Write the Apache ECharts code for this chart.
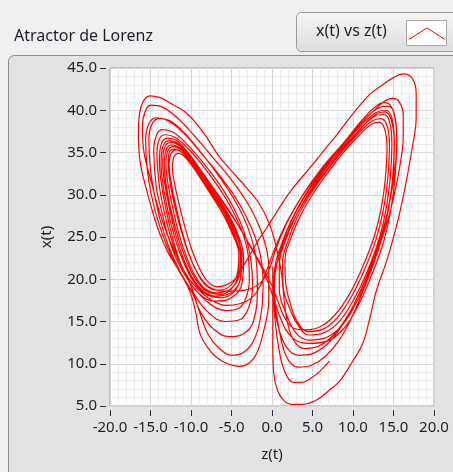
<!DOCTYPE html>
<html>
<head>
<meta charset="utf-8">
<script src="https://cdn.jsdelivr.net/npm/echarts/dist/echarts.min.js"></script>
<style>
  html, body { margin: 0; padding: 0; background: #f0f0f0; }
  #chart { width: 453px; height: 472px; }
</style>
</head>
<body>
<div id="chart"></div>
<script>
// Lorenz trajectory, sampled as [z(t), x(t)] pairs, in drawing order.

// start near the origin, first wide swing around the right wing
const sweepStart = [[0.1,21.5],[0.1,17],[0.1,12],[0.2,9],[0.7,6.8],[1.5,5.6],[2.4,5.2],[3.8,5.2],[5.5,5.7],[7,6.8],[8.4,8.0],[9.9,10.2],[11.2,12.4],[12.1,15.5],[12.9,18.7],[14.1,22],[14.9,24.6],[15.8,28],[16.6,31.7],[17.3,35.5],[17.8,39.1],[17.8,42],[17.3,43.8],[16.2,44.3],[14.9,43.8],[13.5,42.9],[12.1,41.9],[10,39.6],[8.0,37.1],[6.3,35.1],[4.7,33.2],[2.6,30.8],[1.0,28.6],[-0.5,26.3],[-1.7,24.6],[-2.9,22.6]];

// left wing, tight inner turns
const leftA1 = [[-3.9,21.0],[-4.7,19.9],[-5.7,19.3],[-6.8,19.1],[-8.0,19.8],[-9.0,21.4],[-9.9,23.5],[-10.7,26.0],[-11.4,28.6],[-12.0,31.2],[-12.3,33.3],[-12.1,34.5],[-11.5,34.9],[-10.7,34.4],[-9.7,33.2],[-8.6,31.6],[-7.4,29.8],[-6.1,27.8],[-5.0,25.6]];
const leftA2 = [[-4.1,23.0],[-4.3,20.6],[-5.3,19.1],[-6.8,18.7],[-8.2,19.3],[-9.3,20.9],[-10.3,23.1],[-11.1,25.7],[-11.8,28.4],[-12.4,31.2],[-12.7,33.5],[-12.5,34.8],[-11.8,35.3],[-10.9,34.8],[-9.8,33.5],[-8.6,31.8],[-7.3,29.9],[-5.9,27.8],[-4.8,25.5]];
const leftA3 = [[-3.9,22.9],[-4.1,20.3],[-5.2,18.8],[-6.9,18.4],[-8.4,19.0],[-9.6,20.6],[-10.6,22.8],[-11.5,25.4],[-12.2,28.2],[-12.8,31.1],[-13.1,33.6],[-12.9,35.1],[-12.2,35.7],[-11.1,35.2],[-9.9,33.8],[-8.6,32.0],[-7.2,30.0],[-5.7,27.8],[-4.5,25.4]];
const leftA4 = [[-3.7,22.7],[-3.9,20.0],[-5.1,18.4],[-7.0,18.0],[-8.6,18.7],[-9.9,20.3],[-11.0,22.6],[-11.9,25.3],[-12.6,28.1],[-13.2,31.1],[-13.5,33.8],[-13.3,35.5],[-12.5,36.2],[-11.3,35.7],[-10.0,34.2],[-8.6,32.3],[-7.1,30.2],[-5.5,27.9],[-4.2,25.3]];
const leftA5 = [[-3.5,22.5],[-3.7,19.5],[-5.0,17.8],[-7.1,17.4],[-8.9,18.2],[-10.3,19.9],[-11.4,22.2],[-12.3,25.0],[-13.0,27.9],[-13.6,31.0],[-13.9,34.0],[-13.7,35.9],[-12.9,36.7],[-11.6,36.3],[-10.2,34.8],[-8.7,32.8],[-7.0,30.5],[-5.2,28.0],[-3.7,25.6],[-2.4,23.5],[-1.1,21.3],[0.0,19.2],[0.8,17.2],[1.6,15.4],[2.7,14.2]];

// right wing, inner turns
const rightA1 = [[4.2,14.0],[6.0,14.4],[7.8,15.8],[9.6,18.3],[11.2,21.5],[12.6,25.0],[13.5,28.5],[14.0,32.0],[14.2,35.5],[13.9,37.8],[13.2,38.6],[12.2,38.3],[10.8,37.1],[8.8,35.0],[6.8,32.5],[5.0,30.0],[3.5,27.5],[2.3,24.8],[1.6,22.3],[1.7,19.5],[2.3,17.0]];
const rightA2 = [[3.0,15.2],[4.4,13.8],[6.3,14.1],[8.1,15.5],[9.9,18.1],[11.5,21.3],[12.9,24.9],[13.8,28.5],[14.3,32.0],[14.5,35.8],[14.2,38.2],[13.4,39.0],[12.3,38.7],[10.8,37.4],[8.7,35.2],[6.6,32.6],[4.7,30.0],[3.1,27.3],[2.0,24.6],[1.3,22.0],[1.4,19.0],[2.2,16.5]];
const rightA3 = [[3.2,14.6],[4.5,13.4],[6.5,13.7],[8.4,15.1],[10.2,17.8],[11.8,21.0],[13.2,24.7],[14.1,28.4],[14.6,32.0],[14.8,36.0],[14.5,38.7],[13.7,39.5],[12.5,39.2],[10.9,37.8],[8.7,35.5],[6.4,32.8],[4.4,30.0],[2.8,27.2],[1.6,24.4],[0.9,21.8],[0.9,18.8],[1.8,15.8]];
const rightA4 = [[3.0,13.6],[4.6,12.8],[6.7,13.1],[8.7,14.6],[10.5,17.4],[12.1,20.8],[13.5,24.6],[14.4,28.4],[14.9,32.1],[15.1,36.3],[14.8,39.1],[14.0,40.0],[12.8,39.7],[11.0,38.2],[8.7,35.7],[6.2,32.9],[4.1,30.0],[2.4,27.0],[1.2,24.2],[0.4,21.5],[0.3,18.5],[1.0,15.5]];
const rightA5 = [[2.6,13.0],[4.6,12.4],[6.9,12.7],[8.9,14.2],[10.7,17.0],[12.3,20.5],[13.8,24.5],[14.7,28.4],[15.2,32.2],[15.4,36.6],[15.1,39.6],[14.3,40.5],[13.0,40.2],[11.1,38.6],[8.7,36.0],[6.1,33.1],[3.8,30.0],[1.9,26.9],[0.5,24.0],[-0.6,21.2]];

// left wing, wider turns
const leftB1 = [[-1.4,19.3],[-2.5,17.8],[-4.0,17.1],[-5.6,16.9],[-7.6,17.6],[-9.8,19.5],[-11.4,22],[-12.5,25],[-13.3,28],[-13.9,31],[-14.2,35],[-13.9,36.6],[-13.2,37.1],[-12.0,36.8],[-10.4,35.5],[-8.5,33.4],[-6.6,30.9],[-4.9,28.2],[-3.6,25.4],[-2.9,22.5],[-2.8,19.8]];
const leftB2 = [[-3.3,17.6],[-4.2,16.5],[-5.6,16.3],[-7.8,17.2],[-9.9,19.3],[-11.6,22],[-12.8,25],[-13.6,28],[-14.3,31],[-14.6,35.5],[-14.2,37.2],[-13.5,37.7],[-12.2,37.4],[-10.5,36],[-8.5,33.8],[-6.4,31.1],[-4.6,28.2],[-3.3,25.2],[-2.6,22.2],[-2.4,19.2]];
const leftB3 = [[-2.9,16.6],[-4.0,15.2],[-5.8,15.0],[-8.0,16.2],[-9.8,18.5],[-11.4,21],[-12.8,24],[-13.8,27],[-14.5,30],[-15.0,33],[-15.2,36.5],[-14.8,38.4],[-13.9,39.0],[-12.5,38.7],[-10.7,37.2],[-8.6,34.8],[-6.4,32.0],[-4.4,29.0],[-2.9,25.9],[-2.0,22.6],[-1.8,19.2]];
const leftB4 = [[-2.3,15.0],[-3.6,13.5],[-5.3,13.2],[-7.2,14.1],[-8.7,15.9],[-9.9,18.5],[-11.5,21],[-13.0,24],[-14.1,27],[-14.9,30],[-15.4,33],[-15.6,36.5],[-15.2,38.4],[-14.3,39.1],[-12.9,38.8],[-11.0,37.4],[-8.8,35.0],[-6.4,32.2],[-4.2,29.2],[-2.5,26.0],[-1.4,22.7],[-1.1,19.0]];
const leftB5 = [[-1.5,15.0],[-2.4,12.5],[-3.6,11.3],[-5.0,11.0],[-6.6,11.9],[-7.9,13.5],[-8.9,16.0],[-9.9,19],[-11.4,22],[-12.8,25],[-13.9,28],[-14.9,31.5],[-15.8,35],[-16.0,38],[-15.6,40.0],[-14.9,40.6],[-13.6,40.4],[-11.8,39.2],[-9.6,37.0],[-7.2,34.3],[-4.8,31.5],[-2.7,28.5],[-1.1,25.0],[-0.4,21.2],[-0.4,17.5]];
const leftB6 = [[-1.0,14.0],[-1.9,11.2],[-2.8,10.1],[-4.0,9.7],[-5.5,10.0],[-6.9,10.8],[-8.0,12.0],[-8.9,13.6],[-9.4,16],[-10.2,18.7],[-11.8,21.5],[-12.9,23.3],[-13.9,25.5],[-14.9,28.5],[-15.6,31.0],[-16.3,34.0],[-16.5,37.5],[-16.2,40.3],[-15.1,41.7],[-13.8,41.5],[-12.5,40.8],[-10.6,39.7],[-8.5,37.4],[-6.5,34.5],[-4.6,32.4],[-3.3,31.0],[-1.6,29.0],[-0.3,26.5],[0.6,23.5],[1.2,20.5],[1.5,17.5],[2.0,14.5],[2.8,12.6]];

// right wing, wider turns
const rightC1 = [[4.0,11.8],[5.8,12.1],[7.6,13.4],[9.3,15.6],[10.8,18.4],[12.3,21.8],[13.6,25.5],[14.5,29],[15.1,32.5],[15.4,36],[15.2,39],[14.6,40.6],[13.8,40.9],[12.6,40.3],[11.0,38.7],[9.0,36.3],[6.8,33.5],[4.6,30.6],[2.7,27.5],[1.2,24.2],[0.3,21.0],[0.2,18]];
const rightC2 = [[0.5,15.5],[1.4,12.6],[2.4,11.3],[3.4,11.0],[5.0,11.2],[6.8,12.3],[8.5,14.3],[10.0,16.8],[11.5,19.8],[13.0,23.3],[14.3,27.0],[15.2,30.5],[15.8,33.5],[16.2,36.8],[16.2,39.5],[15.7,41.0],[14.9,41.4],[13.8,41.0],[12.2,39.6],[10.2,37.6],[7.9,35.0],[5.6,32.3],[3.5,29.5],[1.8,26.6],[0.5,23.6],[-0.5,20.8]];

// left wing, second pass of inner turns
const leftD1 = [[-1.4,19.6],[-2.6,18.9],[-4.2,18.6],[-6.0,18.6],[-7.8,19.1],[-9.1,20.6],[-10.2,22.8],[-11.1,25.4],[-11.9,28.2],[-12.5,31.0],[-12.8,33.6],[-12.7,35.0],[-12.0,35.4],[-11.0,34.9],[-9.8,33.6],[-8.5,31.8],[-7.1,29.9],[-5.8,27.8],[-4.7,25.5],[-4.1,23.0],[-4.2,20.5]];
const leftD2 = [[-5.0,18.9],[-6.4,18.2],[-8.1,18.6],[-9.5,20.1],[-10.6,22.3],[-11.6,25.0],[-12.4,27.9],[-13.0,30.8],[-13.3,33.6],[-13.1,35.2],[-12.4,35.9],[-11.3,35.5],[-10.0,34.1],[-8.6,32.2],[-7.1,30.1],[-5.6,27.9],[-4.4,25.5],[-3.8,22.9],[-3.9,20.2]];
const leftD3 = [[-4.7,18.5],[-6.3,17.8],[-8.3,18.3],[-9.8,19.9],[-11.0,22.2],[-12.0,24.9],[-12.8,27.9],[-13.4,30.9],[-13.7,33.8],[-13.5,35.6],[-12.7,36.4],[-11.5,36.0],[-10.1,34.5],[-8.6,32.5],[-7.0,30.3],[-5.3,28.0],[-3.8,25.8],[-2.6,23.7],[-1.4,21.6],[-0.4,19.4],[0.3,17.2],[0.8,14.5],[1.4,11.8],[2.2,10.2],[3.3,9.6]];

// last right-wing turn and the end of the run
const rightEnd = [[4.8,9.8],[6.5,10.8],[8.3,12.8],[9.8,15.4],[11.2,18.5],[12.6,22.0],[13.7,25.6],[14.5,29.2],[15.0,32.8],[15.1,36.2],[14.7,38.9],[13.9,39.8],[12.8,39.5],[11.3,38.2],[9.3,36.0],[7.1,33.4],[5.0,30.7],[3.1,27.8],[1.6,24.8],[0.6,21.8],[0.2,18.5],[0.4,15],[0.9,11.5],[1.6,9.0],[2.6,7.8],[3.7,7.8],[4.65,8.2],[5.9,9.1],[7.1,10.3]];

const trajectory = [].concat(
  sweepStart,
  leftA1, leftA2, leftA3, leftA4, leftA5,
  rightA1, rightA2, rightA3, rightA4, rightA5,
  leftB1, leftB2, leftB3, leftB4, leftB5, leftB6,
  rightC1, rightC2,
  leftD1, leftD2, leftD3,
  rightEnd
);

const xRange = { min: -20, max: 20, step: 5 };
const yRange = { min: 5, max: 45, step: 5 };

const textColor = '#1f1f2b';
const font = 'Noto Sans';

const chart = echarts.init(document.getElementById('chart'), null, { renderer: 'canvas' });

chart.setOption({
  backgroundColor: '#f0f0f0',
  animation: false,
  graphic: [
    {
      type: 'rect', z: -10,
      shape: { x: 8.5, y: 55.5, width: 470, height: 440, r: 6 },
      style: { fill: '#e3e3e3', stroke: '#8c8c8c', lineWidth: 1 }
    },
    {
      type: 'text', left: 14, top: 28,
      style: { text: 'Atractor de Lorenz', fill: textColor, font: '16px "Noto Sans"' }
    },
    {
      type: 'rect', z: 1,
      shape: { x: 296.5, y: 12.5, width: 180, height: 39, r: 5 },
      style: {
        fill: new echarts.graphic.LinearGradient(0, 0, 0, 1, [
          { offset: 0, color: '#f4f4f4' }, { offset: 1, color: '#dedede' }
        ]),
        stroke: '#9a9a9a', lineWidth: 1
      }
    },
    {
      type: 'text', z: 2, left: 316, top: 23,
      style: { text: 'x(t) vs z(t)', fill: textColor, font: '16px "Noto Sans"' }
    },
    {
      type: 'rect', z: 2,
      shape: { x: 406.5, y: 20.5, width: 40, height: 25 },
      style: { fill: '#ffffff', stroke: '#a8a8a8', lineWidth: 1 }
    },
    {
      type: 'polyline', z: 3,
      shape: { points: [[409, 39.5], [427, 28], [445, 39.5]] },
      style: { stroke: '#ff0000', lineWidth: 1, fill: null }
    }
  ],
  grid: {
    left: 110, right: 19, top: 68, bottom: 66,
    show: true, backgroundColor: '#ffffff', borderColor: '#9a9a9a', borderWidth: 1
  },
  xAxis: {
    type: 'value', min: xRange.min, max: xRange.max, interval: xRange.step,
    name: 'z(t)', nameLocation: 'middle', nameGap: 37,
    nameTextStyle: { color: textColor, fontFamily: font, fontSize: 15 },
    offset: 4,
    axisLine: { show: false, onZero: false },
    axisTick: { show: true, length: 6, lineStyle: { color: '#303040', width: 1 } },
    axisLabel: { color: textColor, fontFamily: font, fontSize: 15, margin: 10,
      formatter: v => v.toFixed(1) },
    splitLine: { show: true, lineStyle: { color: '#d6d6d6', width: 1 } },
    minorTick: { show: false, splitNumber: 5 },
    minorSplitLine: { show: true, lineStyle: { color: '#ececec', width: 1 } }
  },
  yAxis: {
    type: 'value', min: yRange.min, max: yRange.max, interval: yRange.step,
    name: 'x(t)', nameLocation: 'middle', nameGap: 52, nameRotate: 90,
    nameTextStyle: { color: textColor, fontFamily: font, fontSize: 15 },
    offset: 4,
    axisLine: { show: false, onZero: false },
    axisTick: { show: true, length: 6, lineStyle: { color: '#303040', width: 1 } },
    axisLabel: { color: textColor, fontFamily: font, fontSize: 15, margin: 9,
      formatter: v => v.toFixed(1) },
    splitLine: { show: true, lineStyle: { color: '#d6d6d6', width: 1 } },
    minorTick: { show: false, splitNumber: 5 },
    minorSplitLine: { show: true, lineStyle: { color: '#ececec', width: 1 } }
  },
  series: [{
    name: 'x(t) vs z(t)',
    type: 'line',
    data: trajectory,
    showSymbol: false,
    smooth: 0.4,
    clip: true,
    lineStyle: { color: '#ff0000', width: 1.2 }
  }]
});
</script>
</body>
</html>
